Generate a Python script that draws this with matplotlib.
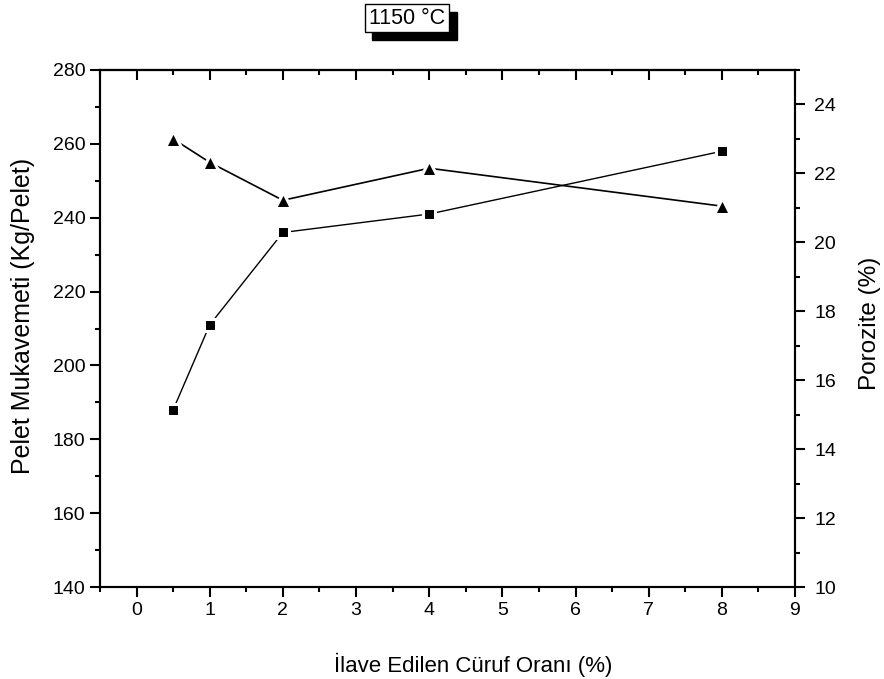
import numpy as np
import matplotlib.pyplot as plt
from matplotlib.patches import Rectangle
from matplotlib.ticker import MultipleLocator

plt.rcParams['font.family'] = ['Liberation Sans', 'DejaVu Sans']

cufur = [0.5, 1, 2, 4, 8]
mukavemet = [188, 211, 236, 241, 258]
porozite = [23.0, 22.32, 21.22, 22.15, 21.05]

W, H = 884, 679
fig = plt.figure(figsize=(W / 100, H / 100), dpi=100)
ax = fig.add_axes([100 / W, 1 - 587 / H, (795 - 100) / W, (587 - 70) / H])
ax2 = ax.twinx()

ax.plot(cufur, mukavemet, color='black', lw=1, marker='s', ms=9,
        mfc='black', mec='white', mew=2.2, zorder=3)
ax2.plot(cufur, porozite, color='black', lw=1.2, marker='^', ms=12,
         mfc='black', mec='white', mew=2.2, zorder=3)

ax.set_xlim(-0.5, 9)
ax.set_ylim(140, 280)
ax2.set_ylim(10, 25)
ax.xaxis.set_major_locator(MultipleLocator(1))
ax.xaxis.set_minor_locator(MultipleLocator(0.5))
ax.yaxis.set_major_locator(MultipleLocator(20))
ax.yaxis.set_minor_locator(MultipleLocator(10))
ax2.yaxis.set_major_locator(MultipleLocator(2))
ax2.yaxis.set_minor_locator(MultipleLocator(1))

for a in (ax, ax2):
    for s in a.spines.values():
        s.set_linewidth(1.5)
ax.tick_params(axis='both', which='major', direction='out', length=7, width=1.5,
               labelsize=14)
ax.tick_params(axis='both', which='minor', direction='out', length=3.5, width=1.5)
ax2.tick_params(axis='y', which='major', direction='out', length=7, width=1.5,
                labelsize=14, pad=7)
ax2.tick_params(axis='y', which='minor', direction='out', length=3.5, width=1.5)

# top axis: ticks pointing inward, no labels
top = ax.secondary_xaxis('top')
top.xaxis.set_major_locator(MultipleLocator(1))
top.xaxis.set_minor_locator(MultipleLocator(0.5))
top.tick_params(which='major', direction='in', length=7, width=1.5, labeltop=False)
top.tick_params(which='minor', direction='in', length=3.5, width=1.5)
top.spines['top'].set_linewidth(1.5)

ax.set_xlabel('İlave Edilen Cüruf Oranı (%)', fontsize=16)
ax.set_ylabel('Pelet Mukavemeti (Kg/Pelet)', fontsize=18)
ax2.set_ylabel('Porozite (%)', fontsize=17.5)
ax.xaxis.set_label_coords(0.537, -0.128)
ax.yaxis.set_label_coords(-0.093, 0.525)
ax2.yaxis.set_label_coords(1.092, 0.51)

# title box with shadow
fig.patches.append(Rectangle((372 / W, 1 - 40 / H), 85 / W, 28 / H,
                             transform=fig.transFigure, color='black',
                             zorder=1))
fig.patches.append(Rectangle((365 / W, 1 - 32 / H), 84 / W, 28 / H,
                             transform=fig.transFigure, facecolor='white',
                             edgecolor='black', lw=1, zorder=2))
fig.text(407 / W, 1 - 18 / H, '1150 °C', ha='center', va='center',
         fontsize=15.5, zorder=3)

fig.savefig('out.png', dpi=100)
